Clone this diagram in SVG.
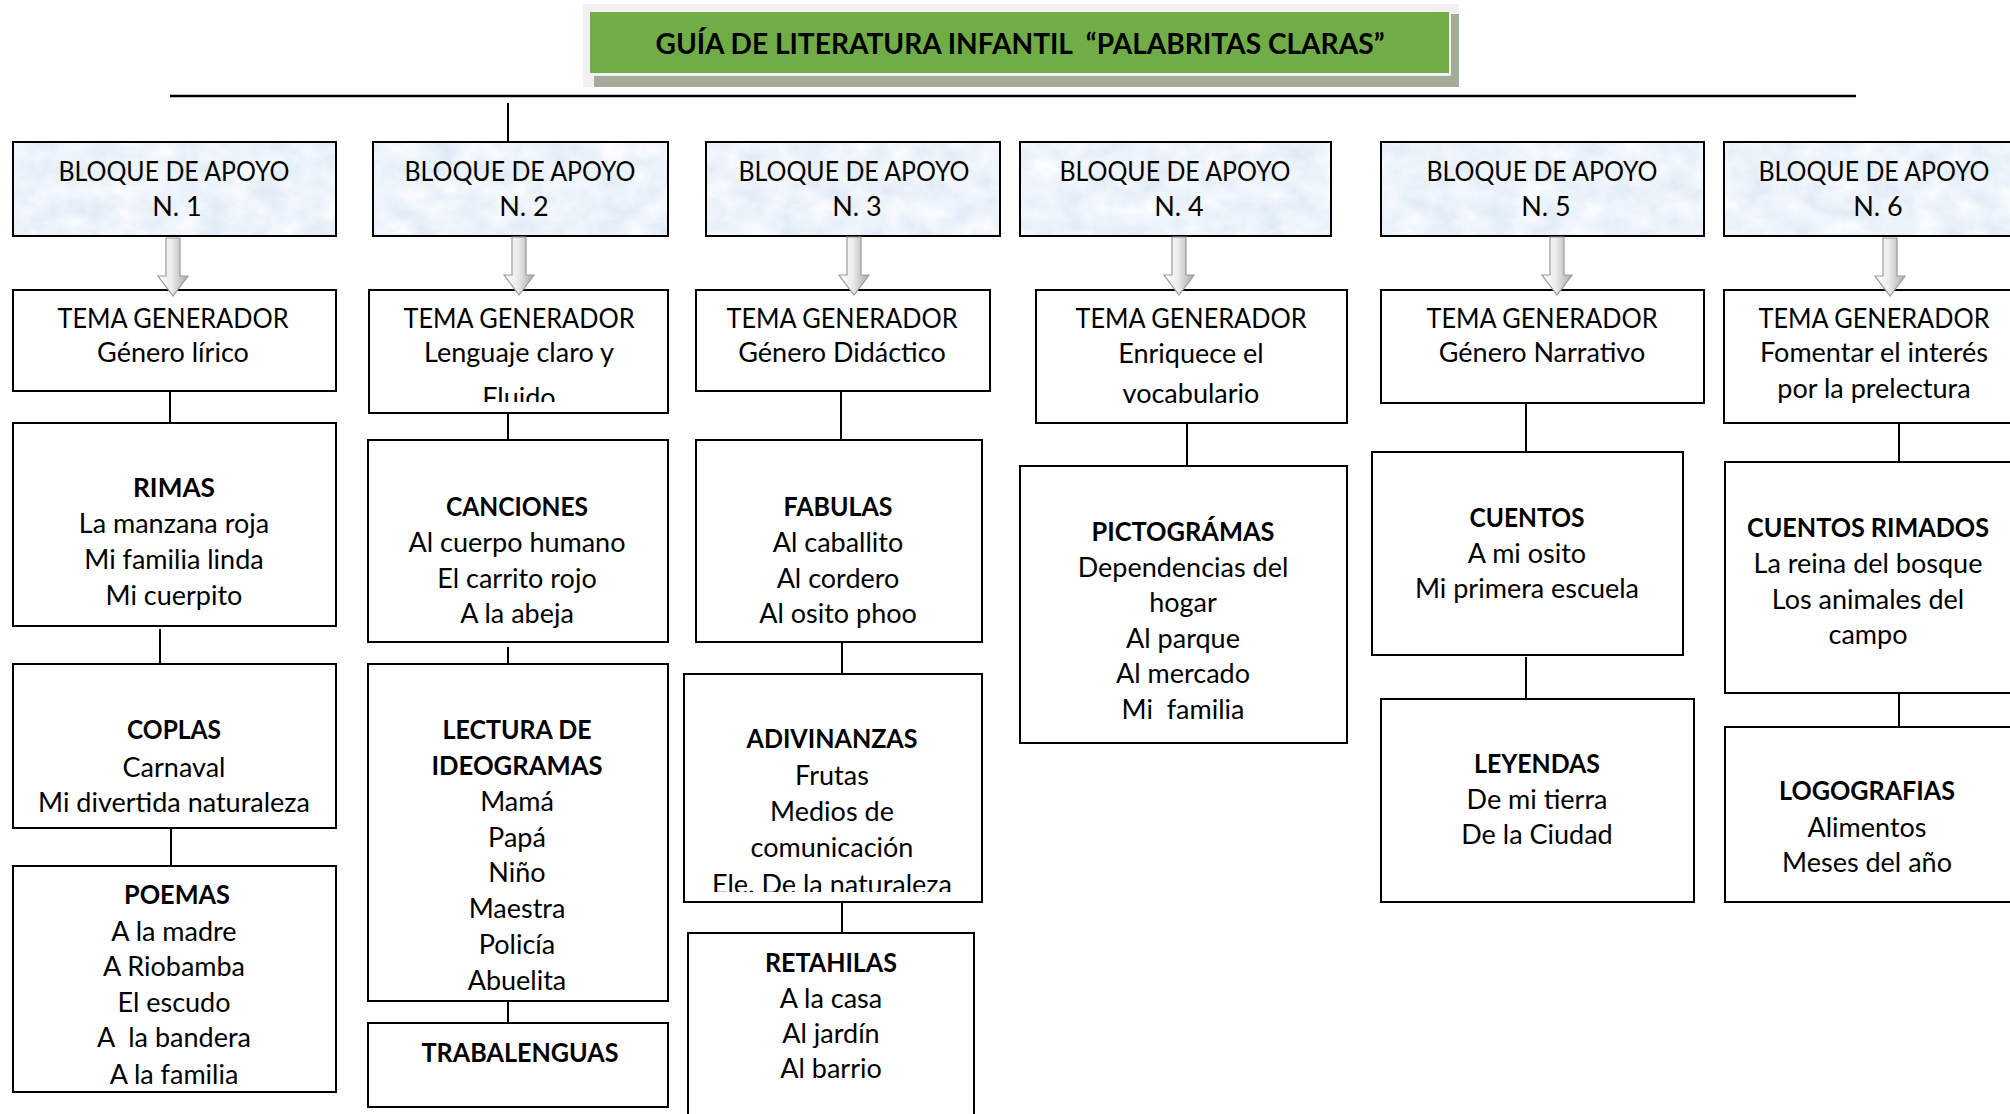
<svg xmlns="http://www.w3.org/2000/svg" width="2010" height="1114" viewBox="0 0 2010 1114">
<style>
.box{fill:#fff;stroke:#000;stroke-width:2}
.blk{stroke:#000;stroke-width:2;fill:none}
.t{font-family:Lato,"Liberation Sans",sans-serif;font-size:27px;fill:#000;text-anchor:middle;white-space:pre}
.b{font-weight:bold}
.ln{stroke:#000;stroke-width:2;fill:none}
.arr{fill:url(#ag);stroke:#9a9a9a;stroke-width:1.2}
</style>
<defs>
<filter id="paper" x="0" y="0" width="1" height="1">
<feTurbulence type="fractalNoise" baseFrequency="0.035 0.05" numOctaves="4" seed="3" result="n"/>
<feColorMatrix in="n" type="matrix" values="0.32 0 0 0 0.69  0.22 0 0 0 0.79  0.12 0 0 0 0.9  0 0 0 0 1" result="c"/>
<feComposite in="c" in2="SourceGraphic" operator="in"/>
</filter>
<linearGradient id="ag" x1="0" y1="0" x2="1" y2="0">
<stop offset="0" stop-color="#ffffff"/>
<stop offset="0.45" stop-color="#ececec"/>
<stop offset="1" stop-color="#a9a9a9"/>
</linearGradient>
<path id="arrow" d="M-7,0 H7 V38 H15 L0,58 L-15,38 H-7 Z"/>
<clipPath id="cFluido"><rect x="369" y="290" width="299" height="112"/></clipPath>
<clipPath id="cPoemas"><rect x="13" y="866" width="323" height="218"/></clipPath>
<clipPath id="cAdiv"><rect x="684" y="674" width="298" height="218"/></clipPath>
</defs>
<rect width="2010" height="1114" fill="#fff"/>

<g id="title">
<rect x="583" y="4" width="876" height="83" fill="#f1f1f1"/>
<rect x="594" y="76" width="865" height="11" fill="#a4ac99"/>
<rect x="1451" y="14" width="8" height="73" fill="#a4ac99"/>
<rect x="590" y="12" width="859" height="61" fill="#70ad47"/>
<text class="t b" x="1020" y="54" textLength="729" lengthAdjust="spacingAndGlyphs" style="font-size:29px">GUÍA DE LITERATURA INFANTIL  “PALABRITAS CLARAS”</text>
</g>

<g id="connectors">
<line class="ln" x1="170" y1="96" x2="1856" y2="96" style="stroke-width:2.5"/>
<line class="ln" x1="508" y1="103" x2="508" y2="142"/>
<line class="ln" x1="170" y1="391" x2="170" y2="423"/>
<line class="ln" x1="160" y1="629" x2="160" y2="664"/>
<line class="ln" x1="171" y1="828" x2="171" y2="866"/>
<line class="ln" x1="508" y1="413" x2="508" y2="440"/>
<line class="ln" x1="508" y1="647" x2="508" y2="664"/>
<line class="ln" x1="508" y1="1001" x2="508" y2="1023"/>
<line class="ln" x1="841" y1="391" x2="841" y2="440"/>
<line class="ln" x1="842" y1="642" x2="842" y2="674"/>
<line class="ln" x1="842" y1="902" x2="842" y2="933"/>
<line class="ln" x1="1187" y1="423" x2="1187" y2="466"/>
<line class="ln" x1="1526" y1="403" x2="1526" y2="452"/>
<line class="ln" x1="1526" y1="657" x2="1526" y2="699"/>
<line class="ln" x1="1899" y1="423" x2="1899" y2="462"/>
<line class="ln" x1="1899" y1="693" x2="1899" y2="727"/>
</g>

<g id="bloque1">
<rect x="13" y="142" width="323" height="94" filter="url(#paper)"/>
<rect class="blk" x="13" y="142" width="323" height="94"/>
<text class="t" x="174" y="181" textLength="231" lengthAdjust="spacingAndGlyphs">BLOQUE DE APOYO</text>
<text class="t" x="177" y="216">N. 1</text>
</g>
<g id="bloque2">
<rect x="373" y="142" width="295" height="94" filter="url(#paper)"/>
<rect class="blk" x="373" y="142" width="295" height="94"/>
<text class="t" x="520" y="181" textLength="231" lengthAdjust="spacingAndGlyphs">BLOQUE DE APOYO</text>
<text class="t" x="524" y="216">N. 2</text>
</g>
<g id="bloque3">
<rect x="706" y="142" width="294" height="94" filter="url(#paper)"/>
<rect class="blk" x="706" y="142" width="294" height="94"/>
<text class="t" x="854" y="181" textLength="231" lengthAdjust="spacingAndGlyphs">BLOQUE DE APOYO</text>
<text class="t" x="857" y="216">N. 3</text>
</g>
<g id="bloque4">
<rect x="1020" y="142" width="311" height="94" filter="url(#paper)"/>
<rect class="blk" x="1020" y="142" width="311" height="94"/>
<text class="t" x="1175" y="181" textLength="231" lengthAdjust="spacingAndGlyphs">BLOQUE DE APOYO</text>
<text class="t" x="1179" y="216">N. 4</text>
</g>
<g id="bloque5">
<rect x="1381" y="142" width="323" height="94" filter="url(#paper)"/>
<rect class="blk" x="1381" y="142" width="323" height="94"/>
<text class="t" x="1542" y="181" textLength="231" lengthAdjust="spacingAndGlyphs">BLOQUE DE APOYO</text>
<text class="t" x="1546" y="216">N. 5</text>
</g>
<g id="bloque6">
<rect x="1724" y="142" width="300" height="94" filter="url(#paper)"/>
<rect class="blk" x="1724" y="142" width="300" height="94"/>
<text class="t" x="1874" y="181" textLength="231" lengthAdjust="spacingAndGlyphs">BLOQUE DE APOYO</text>
<text class="t" x="1878" y="216">N. 6</text>
</g>

<g id="tema1">
<rect class="box" x="13" y="290" width="323" height="101"/>
<text class="t" x="173" y="328" textLength="231" lengthAdjust="spacingAndGlyphs">TEMA GENERADOR</text>
<text class="t" x="173" y="362">Género lírico</text>
</g>
<g id="tema2">
<rect class="box" x="369" y="290" width="299" height="123"/>
<text class="t" x="519" y="328" textLength="231" lengthAdjust="spacingAndGlyphs">TEMA GENERADOR</text>
<text class="t" x="519" y="362">Lenguaje claro y</text>
<text class="t" x="519" y="407" clip-path="url(#cFluido)">Fluido</text>
</g>
<g id="tema3">
<rect class="box" x="696" y="290" width="294" height="101"/>
<text class="t" x="842" y="328" textLength="231" lengthAdjust="spacingAndGlyphs">TEMA GENERADOR</text>
<text class="t" x="842" y="362">Género Didáctico</text>
</g>
<g id="tema4">
<rect class="box" x="1036" y="290" width="311" height="133"/>
<text class="t" x="1191" y="328" textLength="231" lengthAdjust="spacingAndGlyphs">TEMA GENERADOR</text>
<text class="t" x="1191" y="363">Enriquece el</text>
<text class="t" x="1191" y="403">vocabulario</text>
</g>
<g id="tema5">
<rect class="box" x="1381" y="290" width="323" height="113"/>
<text class="t" x="1542" y="328" textLength="231" lengthAdjust="spacingAndGlyphs">TEMA GENERADOR</text>
<text class="t" x="1542" y="362">Género Narrativo</text>
</g>
<g id="tema6">
<rect class="box" x="1724" y="290" width="300" height="133"/>
<text class="t" x="1874" y="328" textLength="231" lengthAdjust="spacingAndGlyphs">TEMA GENERADOR</text>
<text class="t" x="1874" y="362">Fomentar el interés</text>
<text class="t" x="1874" y="398">por la prelectura</text>
</g>

<g id="arrows">
<use href="#arrow" class="arr" x="173" y="238"/>
<use href="#arrow" class="arr" x="519" y="237"/>
<use href="#arrow" class="arr" x="854" y="237"/>
<use href="#arrow" class="arr" x="1179" y="237"/>
<use href="#arrow" class="arr" x="1557" y="237"/>
<use href="#arrow" class="arr" x="1890" y="238"/>
</g>

<g id="rimas">
<rect class="box" x="13" y="423" width="323" height="203"/>
<text class="t b" x="174" y="497" textLength="82" lengthAdjust="spacingAndGlyphs">RIMAS</text>
<text class="t" x="174" y="533">La manzana roja</text>
<text class="t" x="174" y="569">Mi familia linda</text>
<text class="t" x="174" y="605">Mi cuerpito</text>
</g>
<g id="coplas">
<rect class="box" x="13" y="664" width="323" height="164"/>
<text class="t b" x="174" y="739" textLength="94" lengthAdjust="spacingAndGlyphs">COPLAS</text>
<text class="t" x="174" y="777">Carnaval</text>
<text class="t" x="174" y="812">Mi divertida naturaleza</text>
</g>
<g id="poemas">
<rect class="box" x="13" y="866" width="323" height="226"/>
<text class="t b" x="177" y="904" textLength="106" lengthAdjust="spacingAndGlyphs">POEMAS</text>
<text class="t" x="174" y="941">A la madre</text>
<text class="t" x="174" y="976">A Riobamba</text>
<text class="t" x="174" y="1012">El escudo</text>
<text class="t" x="174" y="1047">A  la bandera</text>
<text class="t" x="174" y="1084" clip-path="url(#cPoemas)">A la familia</text>
</g>

<g id="canciones">
<rect class="box" x="368" y="440" width="300" height="202"/>
<text class="t b" x="517" y="516" textLength="142" lengthAdjust="spacingAndGlyphs">CANCIONES</text>
<text class="t" x="517" y="552">Al cuerpo humano</text>
<text class="t" x="517" y="588">El carrito rojo</text>
<text class="t" x="517" y="623">A la abeja</text>
</g>
<g id="lectura">
<rect class="box" x="368" y="664" width="300" height="337"/>
<text class="t b" x="517" y="739" textLength="149" lengthAdjust="spacingAndGlyphs">LECTURA DE</text>
<text class="t b" x="517" y="775" textLength="171" lengthAdjust="spacingAndGlyphs">IDEOGRAMAS</text>
<text class="t" x="517" y="811">Mamá</text>
<text class="t" x="517" y="847">Papá</text>
<text class="t" x="517" y="882">Niño</text>
<text class="t" x="517" y="918">Maestra</text>
<text class="t" x="517" y="954">Policía</text>
<text class="t" x="517" y="990">Abuelita</text>
</g>
<g id="trabalenguas">
<rect class="box" x="368" y="1023" width="300" height="84"/>
<text class="t b" x="520" y="1062" textLength="197" lengthAdjust="spacingAndGlyphs">TRABALENGUAS</text>
</g>

<g id="fabulas">
<rect class="box" x="696" y="440" width="286" height="202"/>
<text class="t b" x="838" y="516" textLength="109" lengthAdjust="spacingAndGlyphs">FABULAS</text>
<text class="t" x="838" y="552">Al caballito</text>
<text class="t" x="838" y="588">Al cordero</text>
<text class="t" x="838" y="623">Al osito phoo</text>
</g>
<g id="adivinanzas">
<rect class="box" x="684" y="674" width="298" height="228"/>
<text class="t b" x="832" y="748" textLength="171" lengthAdjust="spacingAndGlyphs">ADIVINANZAS</text>
<text class="t" x="832" y="785">Frutas</text>
<text class="t" x="832" y="821">Medios de</text>
<text class="t" x="832" y="857">comunicación</text>
<text class="t" x="832" y="894" clip-path="url(#cAdiv)">Ele. De la naturaleza</text>
</g>
<g id="retahilas">
<rect class="box" x="688" y="933" width="286" height="200"/>
<text class="t b" x="831" y="972" textLength="132" lengthAdjust="spacingAndGlyphs">RETAHILAS</text>
<text class="t" x="831" y="1008">A la casa</text>
<text class="t" x="831" y="1043">Al jardín</text>
<text class="t" x="831" y="1078">Al barrio</text>
</g>

<g id="pictogramas">
<rect class="box" x="1020" y="466" width="327" height="277"/>
<text class="t b" x="1183" y="541" textLength="183" lengthAdjust="spacingAndGlyphs">PICTOGRÁMAS</text>
<text class="t" x="1183" y="577">Dependencias del</text>
<text class="t" x="1183" y="612">hogar</text>
<text class="t" x="1183" y="648">Al parque</text>
<text class="t" x="1183" y="683">Al mercado</text>
<text class="t" x="1183" y="719">Mi  familia</text>
</g>

<g id="cuentos">
<rect class="box" x="1372" y="452" width="311" height="203"/>
<text class="t b" x="1527" y="527" textLength="115" lengthAdjust="spacingAndGlyphs">CUENTOS</text>
<text class="t" x="1527" y="563">A mi osito</text>
<text class="t" x="1527" y="598">Mi primera escuela</text>
</g>
<g id="leyendas">
<rect class="box" x="1381" y="699" width="313" height="203"/>
<text class="t b" x="1537" y="773" textLength="126" lengthAdjust="spacingAndGlyphs">LEYENDAS</text>
<text class="t" x="1537" y="809">De mi tierra</text>
<text class="t" x="1537" y="844">De la Ciudad</text>
</g>

<g id="cuentosrimados">
<rect class="box" x="1725" y="462" width="300" height="231"/>
<text class="t b" x="1868" y="537" textLength="242" lengthAdjust="spacingAndGlyphs">CUENTOS RIMADOS</text>
<text class="t" x="1868" y="573">La reina del bosque</text>
<text class="t" x="1868" y="609">Los animales del</text>
<text class="t" x="1868" y="644">campo</text>
</g>
<g id="logografias">
<rect class="box" x="1725" y="727" width="300" height="175"/>
<text class="t b" x="1867" y="800" textLength="176" lengthAdjust="spacingAndGlyphs">LOGOGRAFIAS</text>
<text class="t" x="1867" y="837">Alimentos</text>
<text class="t" x="1867" y="872">Meses del año</text>
</g>
</svg>
